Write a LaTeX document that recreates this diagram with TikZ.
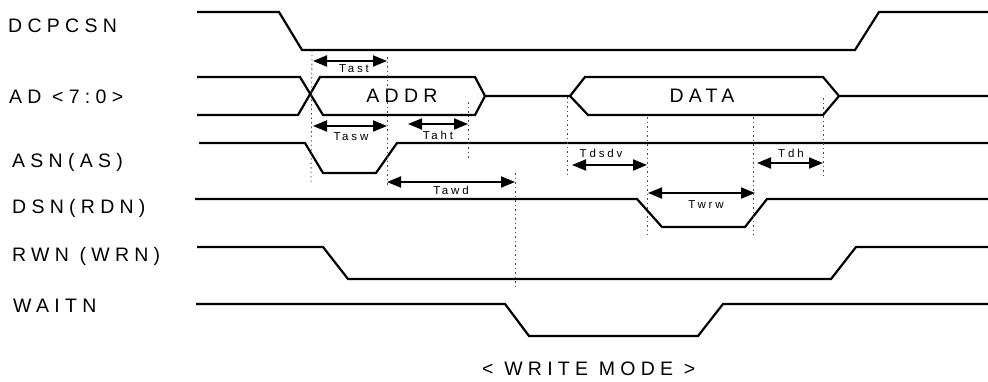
\documentclass[tikz,border=0pt]{standalone}
\usepackage{fontspec}
\usetikzlibrary{arrows.meta}
\newfontfamily\lblfont{Liberation Sans}[LetterSpace=27]
\newfontfamily\smlfont{Liberation Sans}[LetterSpace=25]
\tikzset{
  wave/.style={line width=2.2pt, line join=miter, black},
  guide/.style={line width=0.8pt, dash pattern=on 1.5pt off 3pt, black!70},
  timing/.style={line width=2pt, {Triangle[length=14pt,width=11pt]}-{Triangle[length=14pt,width=11pt]}},
  siglabel/.style={anchor=west, inner sep=0pt, font=\lblfont\fontsize{19.5}{21}\selectfont},
  tlabel/.style={inner sep=0pt, font=\smlfont\fontsize{11.5}{12}\selectfont}
}
\begin{document}
\begin{tikzpicture}[x=1pt,y=-1pt]
\useasboundingbox (0,0) rectangle (988,381);
% signal names
\node[siglabel] (nDCPCSN) at (8,26) {DCPCSN};
\node[siglabel] (nAD) at (9,97) {AD <7:0>};
\node[siglabel] (nASN) at (12,162) {ASN(AS)};
\node[siglabel] (nDSN) at (12,208) {DSN(RDN)};
\node[siglabel] (nRWN) at (12,256) {RWN (WRN)};
\node[siglabel] (nWAITN) at (13,306) {WAITN};
\node[siglabel] (nMode) at (482,369) {< WRITE MODE >};
% waveforms
\draw[wave] (197,12) -- (279,12) -- (302,50) -- (855,50) -- (879,12) -- (988,12);
% AD bus
\draw[wave] (197,77) -- (300,77) -- (323,115) -- (475,115) -- (485,96) -- (570,96);
\draw[wave] (197,115) -- (298,115) -- (320,77) -- (475,77) -- (485,96);
\draw[wave] (570,96) -- (585,77) -- (823,77) -- (839,96) -- (988,96);
\draw[wave] (570,96) -- (588,115) -- (823,115) -- (839,96);
\node[inner sep=0pt, font=\lblfont\fontsize{19.5}{21}\selectfont] (tADDR) at (402,96) {ADDR};
\node[inner sep=0pt, font=\lblfont\fontsize{19.5}{21}\selectfont] (tDATA) at (702,96) {DATA};
% ASN
\draw[wave] (199,143) -- (305,143) -- (323,173) -- (376,173) -- (397,143) -- (988,143);
% DSN
\draw[wave] (195,199) -- (637,199) -- (662,227) -- (745,227) -- (767,199) -- (988,199);
% RWN
\draw[wave] (197,247) -- (323,247) -- (348,279) -- (831,279) -- (856,247) -- (988,247);
% WAITN
\draw[wave] (196,304) -- (505,304) -- (529,336) -- (698,336) -- (723,304) -- (988,304);
% guide lines
\draw[guide] (312,50) -- (311,182);
\draw[guide] (387,57) -- (387,185);
\draw[guide] (468,102) -- (468,160);
\draw[guide] (515,173) -- (515,287);
\draw[guide] (567,97) -- (567,175);
\draw[guide] (647,117) -- (647,235);
\draw[guide] (753,117) -- (753,235);
\draw[guide] (823,98) -- (823,177);
% timing arrows
\coordinate (a1) at (313,61); \coordinate (b1) at (387,61);
\coordinate (a2) at (313,126); \coordinate (b2) at (387,126);
\coordinate (a3) at (408,124); \coordinate (b3) at (468,124);
\coordinate (a4) at (387,182); \coordinate (b4) at (515,182);
\coordinate (a5) at (572,165); \coordinate (b5) at (647,165);
\coordinate (a6) at (757,163); \coordinate (b6) at (823,163);
\coordinate (a7) at (648,193); \coordinate (b7) at (755,193);
\draw[timing] (a1) -- (b1);
\draw[timing] (a2) -- (b2);
\draw[timing] (a3) -- (b3);
\draw[timing] (a4) -- (b4);
\draw[timing] (a5) -- (b5);
\draw[timing] (a6) -- (b6);
\draw[timing] (a7) -- (b7);
\node[tlabel] (lTast) at (354,69) {Tast};
\node[tlabel] (lTasw) at (351,137) {Tasw};
\node[tlabel] (lTaht) at (438,135) {Taht};
\node[tlabel] (lTawd) at (451,190) {Tawd};
\node[tlabel] (lTdsdv) at (601,153) {Tdsdv};
\node[tlabel] (lTdh) at (791,153) {Tdh};
\node[tlabel] (lTwrw) at (706,205) {Twrw};
\end{tikzpicture}
\end{document}
